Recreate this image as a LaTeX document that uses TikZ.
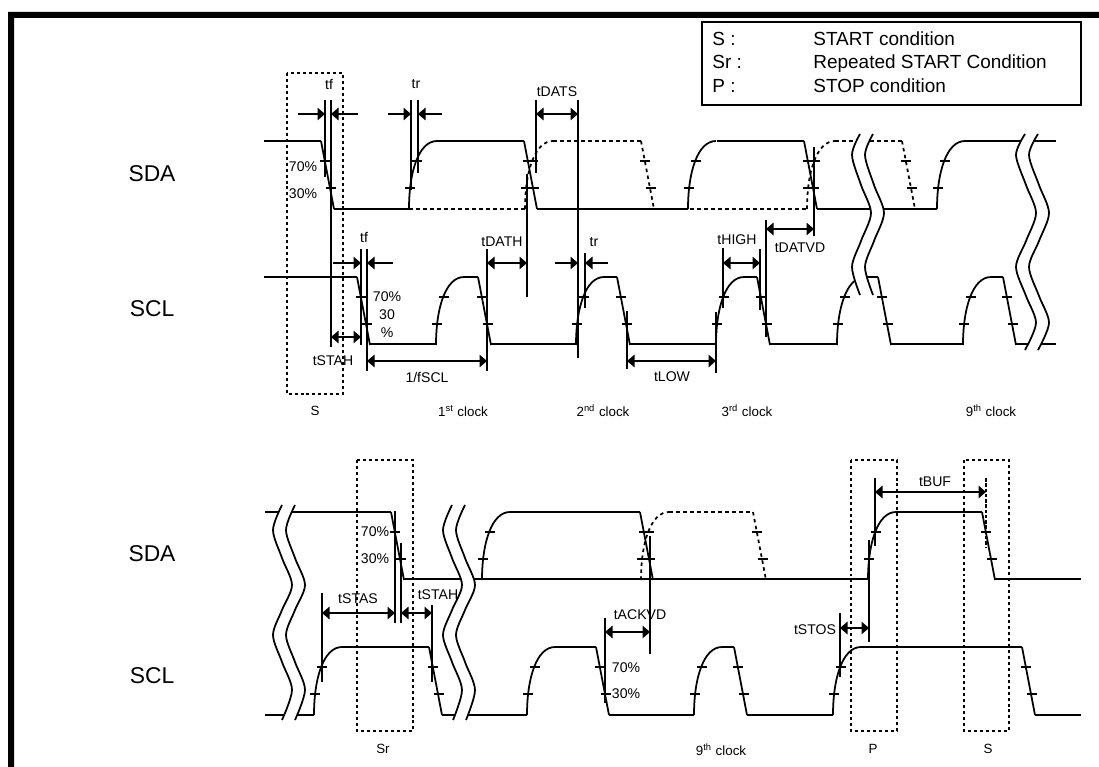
\documentclass[tikz,border=0pt]{standalone}
\usepackage{fontspec}
\setmainfont{Liberation Sans}
\usetikzlibrary{arrows.meta}
\tikzset{every node/.append style={execute at begin node={\hyphenpenalty=10000\exhyphenpenalty=10000\relax}}}
% one edge of a signal: x of its start, y of its high level
\newcommand{\tickmarks}[4]{\draw[mark line] ({#1-5},{#2+20}) -- ({#1+5},{#2+20}); \draw[mark line] ({#3-5},{#4+47}) -- ({#3+5},{#4+47});}
\newcommand{\edgefall}[3][solid]{\draw[wave,#1] (#2,#3) -- ({#2+13},{#3+68}); \tickmarks{#2+4}{#3}{#2+9.5}{#3}}
\newcommand{\edgerise}[3][solid]{\draw[wave,#1] (#2,{#3+68}) .. controls (#2,{#3+30}) and ({#2+10},#3) .. ({#2+28},#3); \tickmarks{#2+8}{#3}{#2+1}{#3}}
\newcommand{\wavebreak}[1]{
  \foreach \d in {1,...,12} {\draw[white, line width=1.3pt, xshift=\d*0.02cm] plot[smooth] coordinates {#1};}
  \draw[wave] plot[smooth] coordinates {#1};
  \draw[wave, xshift=0.26cm] plot[smooth] coordinates {#1};}

\begin{document}
\begin{tikzpicture}[x=0.02cm, y=-0.02cm, font=\fontsize{8}{9}\selectfont, >={Triangle[length=1.5mm, width=2.5mm]},
  wave/.style={line width=1pt},
  mark line/.style={line width=0.7pt},
  dim/.style={line width=0.85pt},
  dimarrow/.style={line width=0.85pt, <->},
  dots/.style={line width=0.8pt, dash pattern=on 1.7pt off 1.7pt},
  dashwave/.style={line width=1pt, dash pattern=on 2pt off 2pt},
  sig/.style={font=\fontsize{13}{15}\selectfont},
  clock/.style={font=\fontsize{7.6}{9}\selectfont},
  legend/.style={font=\fontsize{10.8}{12}\selectfont, anchor=base west, inner sep=0pt}]
  \useasboundingbox (0,0) rectangle (1099,767);
  \fill (8,767) rectangle (14,12) (14,12) rectangle (1099,18);

  % legend
  \draw[line width=0.8pt] (702,22) rectangle (1081,105);
  \node[legend] (ls) at (712,46) {S :};
  \node[legend] (lsr) at (712,69) {Sr :};
  \node[legend] (lp) at (712,92) {P :};
  \node[legend] (ts) at (813,46) {START condition};
  \node[legend] (tsr) at (813,69) {Repeated START Condition};
  \node[legend] (tp) at (813,92) {STOP condition};

  % upper SDA
  \draw[wave] (264,141) -- (321,141) (334,209) -- (409,209) (437,141) -- (524,141) (537,209) -- (688,209);
  \draw[wave] (717,141) -- (804,141) (817,209) -- (937,209) (964,141) -- (1056,141);
  \draw[dashwave] (409,209) -- (528,209) (553,141) -- (641,141) (690,209) -- (807,209) (835,141) -- (902,141);
  \edgefall{321}{141} \edgerise{409}{141} \edgefall{524}{141} \edgerise{688}{141} \edgefall{804}{141} \edgerise{937}{141}
  \edgerise[dashwave]{525}{141} \edgefall[dashwave]{641}{141} \edgerise[dashwave]{807}{141} \edgefall[dashwave]{902}{141}
  % upper SCL
  \draw[wave] (264,277) -- (357,277) (370,344) -- (436,344) (464,277) -- (478,277) (491,344) -- (576,344) (604,277) -- (617,277);
  \draw[wave] (630,344) -- (716,344) (744,277) -- (757,277) (770,344) -- (837,344) (865,277) -- (878,277) (891,344) -- (963,344);
  \draw[wave] (991,277) -- (1003,277) (1016,344) -- (1056,344);
  \edgefall{357}{277} \edgerise{436}{277} \edgefall{478}{277} \edgerise{576}{277} \edgefall{617}{277} \edgerise{716}{277}
  \edgefall{757}{277} \edgerise{837}{277} \edgefall{878}{277} \edgerise{963}{277} \edgefall{1003}{277}
  \wavebreak{(860,134) (852,155) (861,185) (871,213) (861,241) (852,267) (860,295)}
  \wavebreak{(1025,134) (1016,155) (1026,185) (1036,213) (1026,241) (1016,267) (1026,296) (1036,323) (1025,350)}

  % upper timing marks
  \draw[dim] (325,100) -- (325,177) (331,100) -- (331,347) (411,100) -- (411,190) (418,100) -- (418,173);
  \draw[dim] (536,100) -- (536,173) (578,100) -- (578,358) (487,249) -- (487,371) (527,174) -- (527,297);
  \draw[dim] (361,249) -- (361,345) (367,249) -- (367,371) (585,253) -- (585,308) (723,248) -- (723,308) (760,249) -- (760,310);
  \draw[dim] (627,311) -- (627,369) (716,312) -- (716,373) (766,220) -- (766,337) (814,147) -- (814,236);
  \draw[dim, ->] (298,114) -- (325,114); \draw[dim, ->] (358,114) -- (331,114);
  \draw[dim, ->] (388,114) -- (411,114); \draw[dim, ->] (442,114) -- (418,114);
  \draw[dim, ->] (333,263) -- (361,263); \draw[dim, ->] (393,263) -- (367,263);
  \draw[dim, ->] (555,263) -- (578,263); \draw[dim, ->] (608,263) -- (585,263);
  \draw[dimarrow] (536,114) -- (578,114);
  \draw[dimarrow] (487,263) -- (527,263);
  \draw[dimarrow] (723,263) -- (760,263);
  \draw[dimarrow] (331,337) -- (361,337);
  \draw[dimarrow] (367,361) -- (487,361);
  \draw[dimarrow] (627,361) -- (716,361);
  \draw[dimarrow] (766,229) -- (814,229);
  \draw[dots] (287,73) rectangle (343,394);

  % upper labels
  \node[sig] (sda1) at (152,174) {SDA};
  \node[sig] (scl1) at (152,309) {SCL};
  \node (tfa) at (329,84) {tf};
  \node (tra) at (416,84) {tr};
  \node (tdats) at (557,92) {tDATS};
  \node (tfb) at (364,237) {tf};
  \node (tdath) at (502,242) {tDATH};
  \node (trb) at (594,242) {tr};
  \node (thigh) at (737,240) {tHIGH};
  \node (tdatvd) at (800,248) {tDATVD};
  \node (tstaha) at (333,361) {tSTAH};
  \node (fscl) at (427,377) {1/fSCL};
  \node (tlow) at (672,377) {tLOW};
  \node (pa) at (303,167) {70\%};
  \node (pb) at (303,194) {30\%};
  \node (pc) at (387,297) {70\%};
  \node (pd) at (387,315) {30};
  \node (pe) at (387,333) {\%};
  \node[clock] (cs) at (315,411) {S};
  \node[clock] (ca) at (463,411) {1\textsuperscript{st} clock};
  \node[clock] (cb) at (603,411) {2\textsuperscript{nd} clock};
  \node[clock] (cc) at (747,411) {3\textsuperscript{rd} clock};
  \node[clock] (cd) at (991,411) {9\textsuperscript{th} clock};

  % lower SDA
  \draw[wave] (265,512) -- (391,512) (404,579) -- (482,579) (510,512) -- (640,512) (482,579) -- (868,579) (896,512) -- (982,512) (995,579) -- (1081,579);
  \draw[dashwave] (669,512) -- (753,512);
  \edgefall{391}{512} \edgerise{482}{512} \edgefall{640}{512} \edgerise{868}{512} \edgefall{982}{512}
  \edgerise[dashwave]{641}{512} \edgefall[dashwave]{753}{512}
  % lower SCL
  \draw[wave] (265,715) -- (314,715) (342,647) -- (429,647) (442,715) -- (527,715) (555,647) -- (596,647) (609,715) -- (694,715);
  \draw[wave] (722,647) -- (734,647) (747,715) -- (833,715) (861,647) -- (1022,647) (1035,715) -- (1081,715);
  \edgerise{314}{647} \edgefall{429}{647} \edgerise{527}{647} \edgefall{596}{647} \edgerise{694}{647} \edgefall{734}{647}
  \edgerise{833}{647} \edgefall{1022}{647}
  \wavebreak{(282,505) (273,530) (282,558) (292,585) (282,610) (273,635) (282,662) (292,690) (282,720)}
  \wavebreak{(452,505) (443,530) (452,558) (462,585) (452,610) (443,635) (452,662) (462,690) (453,720)}

  % lower timing marks
  \draw[dim] (322,593) -- (322,682) (395,511) -- (395,623) (401,543) -- (401,623) (432,605) -- (432,682);
  \draw[dim] (605,618) -- (605,703) (650,536) -- (650,654) (840,613) -- (840,677) (869,540) -- (869,642) (875,478) -- (875,546);
  \draw[dim, dash pattern=on 2pt off 1pt] (986,478) -- (986,547);
  \draw[dimarrow] (322,613) -- (395,613);
  \draw[dimarrow] (401,613) -- (432,613);
  \draw[dimarrow] (605,632) -- (650,632);
  \draw[dimarrow] (840,628) -- (869,628);
  \draw[dimarrow] (875,492) -- (986,492);
  \draw[dots] (357,460) rectangle (413,731);
  \draw[dots] (851,460) rectangle (897,731);
  \draw[dots] (964,460) rectangle (1009,731);

  % lower labels
  \node[sig] (sda2) at (152,554) {SDA};
  \node[sig] (scl2) at (152,676) {SCL};
  \node (tstas) at (358,599) {tSTAS};
  \node (tstahb) at (438,595) {tSTAH};
  \node (tackvd) at (640,615) {tACKVD};
  \node (tstos) at (815,630) {tSTOS};
  \node (tbuf) at (935,482) {tBUF};
  \node (pf) at (375,532) {70\%};
  \node (pg) at (375,559) {30\%};
  \node (ph) at (626,668) {70\%};
  \node (pi) at (626,694) {30\%};
  \node[clock] (csr) at (383,749) {Sr};
  \node[clock] (ce) at (721,750) {9\textsuperscript{th} clock};
  \node[clock] (cp) at (873,749) {P};
  \node[clock] (csb) at (988,749) {S};
\end{tikzpicture}
\end{document}
